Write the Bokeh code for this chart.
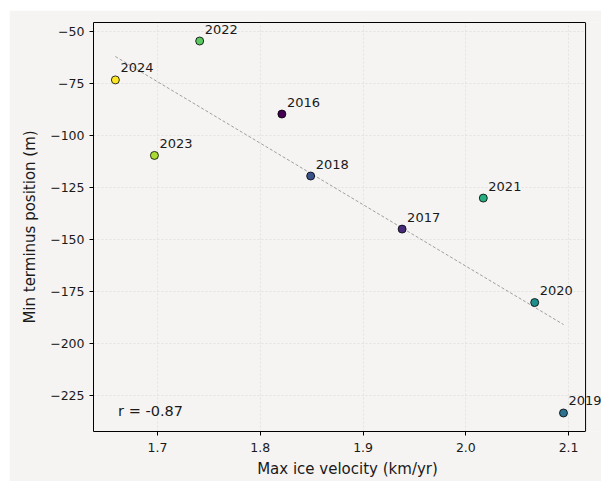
import numpy as np
from bokeh.plotting import figure
from bokeh.models import (ColumnDataSource, Range1d, Label, CustomJSTickFormatter, FixedTicker,
                          LinearAxis, Span, BoxAnnotation)
from bokeh.embed import file_html
from bokeh.resources import INLINE

years = ["2016", "2017", "2018", "2019", "2020", "2021", "2022", "2023", "2024"]
velocity = [1.821, 1.938, 1.849, 2.095, 2.067, 2.017, 1.741, 1.697, 1.659]
terminus = [-89.7, -145.0, -119.5, -233.4, -180.3, -130.1, -54.6, -109.6, -73.3]
colors = ["#440154", "#472B7A", "#3B518A", "#2C718E", "#208F8C",
          "#27AD80", "#5BC862", "#AADB32", "#FDE724"]
x_ticks = [1.7, 1.8, 1.9, 2.0, 2.1]
y_ticks = [-50, -75, -100, -125, -150, -175, -200, -225]

BG = "#f5f4f2"
FONT = "DejaVu Sans"

# visible axes box limits
x_lo, x_hi = 1.6377, 2.1165
y_lo, y_hi = -242.3, -45.7
# drawable area extends past the box on the right so that labels are not cut
x_ext = 2.1320

p = figure(width=592, height=471, output_backend="svg", toolbar_location=None,
           x_range=Range1d(x_lo, x_ext), y_range=Range1d(y_lo, y_hi),
           background_fill_color=BG, border_fill_color=BG,
           min_border_left=84, min_border_right=0, min_border_top=12, min_border_bottom=50)
p.margin = (10, 0, 0, 9)

minus_fmt = CustomJSTickFormatter(code="return tick.toString().replace('-', '\\u2212');")
xfmt = CustomJSTickFormatter(code="return tick.toFixed(1);")

p.xaxis.ticker = FixedTicker(ticks=x_ticks)
p.yaxis.ticker = FixedTicker(ticks=y_ticks)
p.xaxis.formatter = xfmt
p.yaxis.formatter = minus_fmt
p.xaxis.bounds = (x_lo, x_hi)
p.xaxis.axis_label = "Max ice velocity (km/yr)"
p.yaxis.axis_label = "Min terminus position (m)"
for ax in (p.xaxis, p.yaxis):
    ax.axis_label_text_font = FONT
    ax.axis_label_text_font_size = "15px"
    ax.axis_label_text_font_style = "normal"
    ax.axis_label_text_color = "#1a1a1a"
    ax.major_label_text_font = FONT
    ax.major_label_text_font_size = "12.5px"
    ax.major_label_text_color = "#1a1a1a"
    ax.axis_line_color = "black"
    ax.axis_line_width = 1
    ax.major_tick_line_color = "black"
    ax.major_tick_out = 4
    ax.major_tick_in = 0
    ax.minor_tick_line_color = None
p.xaxis.major_label_standoff = 7
p.xaxis.axis_label_standoff = 5
p.yaxis.axis_label_standoff = 8

top = LinearAxis(ticker=FixedTicker(ticks=[]), bounds=(x_lo, x_hi), axis_line_color="black",
                 major_tick_line_color=None, minor_tick_line_color=None,
                 major_label_text_font_size="0px")
p.add_layout(top, "above")

p.outline_line_color = None
p.grid.grid_line_color = "#d6d6d6"
p.grid.grid_line_dash = "2 2"
p.grid.grid_line_width = 0.6

# cover the grid right of the axes box
p.add_layout(BoxAnnotation(left=x_hi, fill_color=BG, fill_alpha=1.0, line_color=None,
                           level="underlay"))
p.add_layout(Span(location=x_hi, dimension="height", line_color="black", line_width=1))

# regression line computed from data
slope, intercept = np.polyfit(velocity, terminus, 1)
lx = [min(velocity), max(velocity)]
ly = [slope * v + intercept for v in lx]
p.line(lx, ly, line_color="#888888", line_width=0.8, line_dash="3 2")

src = ColumnDataSource(dict(x=velocity, y=terminus, year=years, color=colors))
p.scatter("x", "y", source=src, size=8, fill_color="color", line_color="black",
          line_width=0.8)
for vx, vy, yr in zip(velocity, terminus, years):
    p.add_layout(Label(x=vx, y=vy, text=yr, x_offset=5, y_offset=12,
                       text_font=FONT, text_font_size="13px", text_baseline="alphabetic",
                       text_align="left", text_color="#1a1a1a"))

r = np.corrcoef(velocity, terminus)[0, 1]
p.add_layout(Label(x=x_lo + 0.05 * (x_hi - x_lo), y=y_lo, y_offset=21,
                   text=f"r = {r:.2f}", text_font=FONT, text_font_size="14.5px",
                   text_baseline="alphabetic", text_color="#1a1a1a"))

open("out.html", "w").write(file_html(p, INLINE))
